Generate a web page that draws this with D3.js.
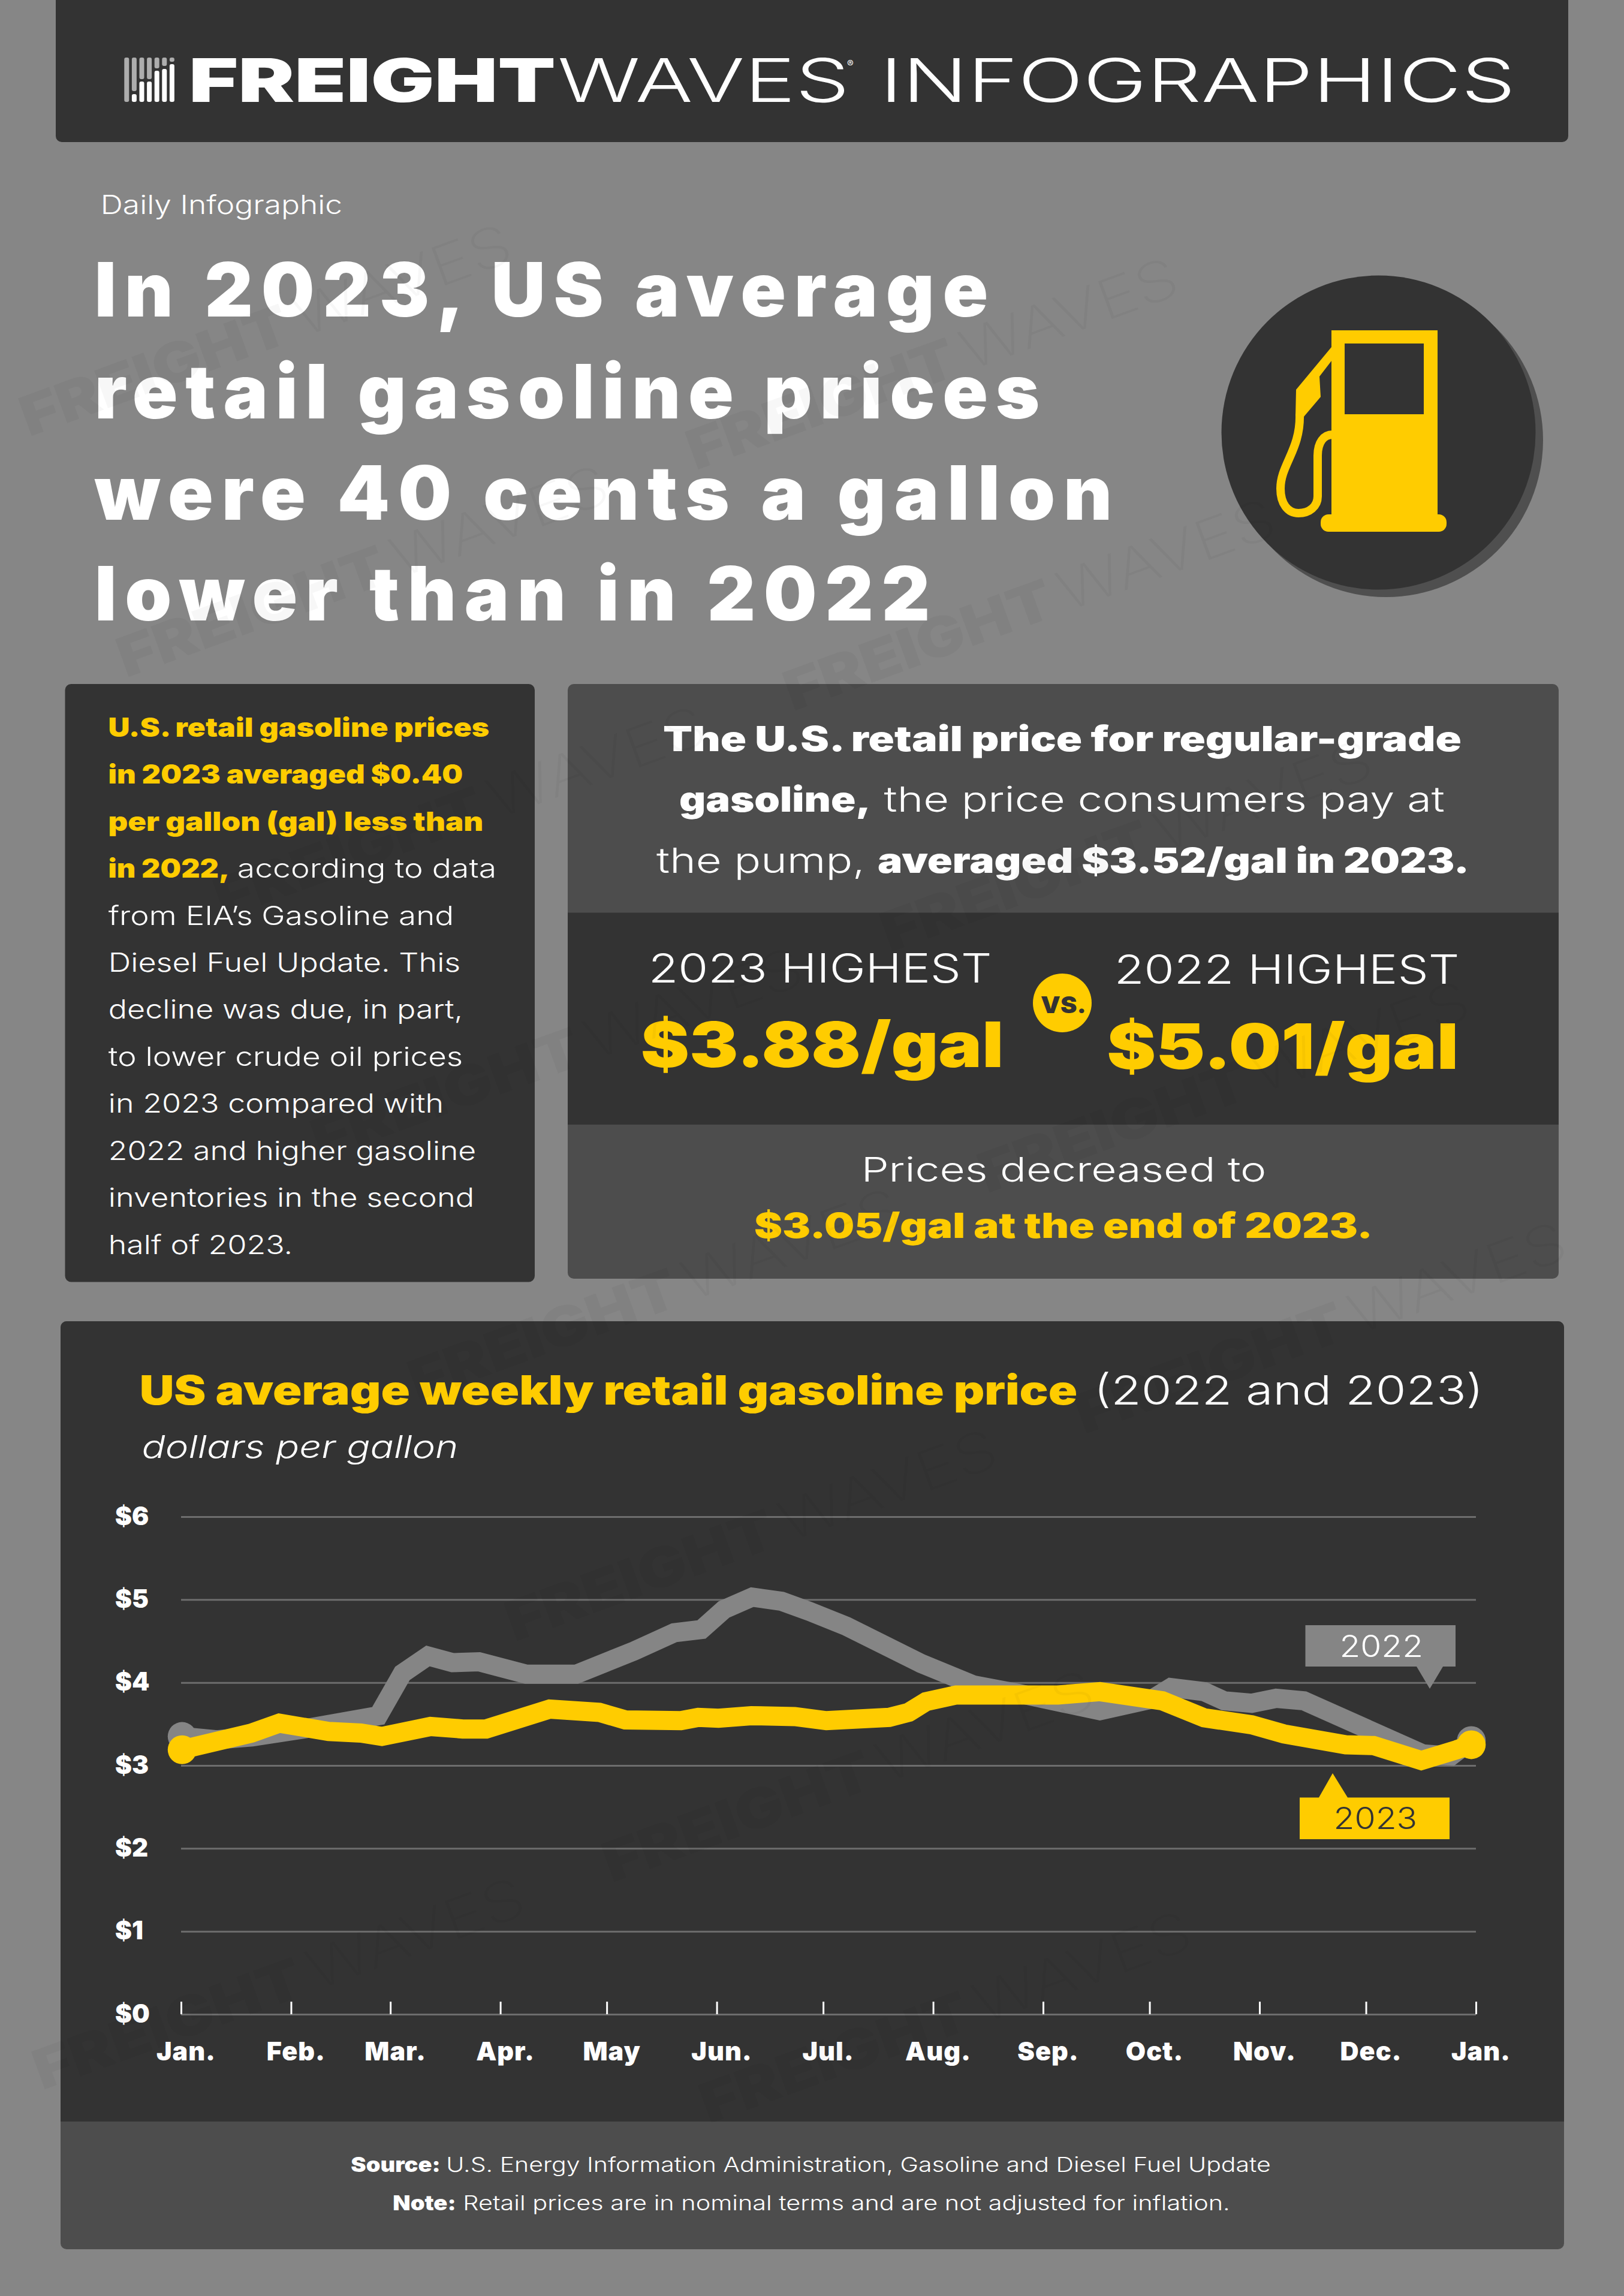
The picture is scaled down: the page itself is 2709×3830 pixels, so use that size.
<!DOCTYPE html>
<html>
<head>
<meta charset="utf-8">
<script src="https://cdn.jsdelivr.net/npm/d3@7"></script>
<style>
  html, body { margin: 0; padding: 0; background: #868686; }
  svg { display: block; }
  text { font-family: Inter, "Open Sans", sans-serif; }
</style>
</head>
<body>
<div id="chart"></div>
<script>
// day of the year and price
var days2022 = [0.3, 10, 20, 34.5, 55.6, 62.4, 69.6, 76.5, 84, 97.3, 111.4, 127.7, 139, 146.7, 153, 161, 169.3, 177, 187.5, 208.6, 223.4, 235.9, 259, 273.7, 279, 288.4, 294, 301.8, 308.7, 316.5, 350, 358, 363.7];
var price2022 = [3.35, 3.31, 3.345, 3.44, 3.60, 4.11, 4.32, 4.24, 4.25, 4.10, 4.10, 4.38, 4.60, 4.64, 4.88, 5.03, 4.98, 4.86, 4.68, 4.23, 3.97, 3.87, 3.66, 3.80, 3.94, 3.89, 3.78, 3.75, 3.81, 3.78, 3.14, 3.115, 3.30];
var days2023 = [0.3, 4, 19.8, 27.7, 41.6, 50.7, 56.6, 70.3, 79.4, 86, 103.9, 117.9, 125.2, 140.9, 145.8, 151.5, 160.7, 173, 181.9, 199.6, 205.1, 210, 218.5, 235.2, 247.2, 259, 276.6, 288.4, 301.8, 310.9, 328.3, 336.1, 349.6, 359.6, 363.7];
var price2023 = [3.19, 3.23, 3.39, 3.51, 3.41, 3.39, 3.35, 3.47, 3.44, 3.44, 3.68, 3.64, 3.55, 3.54, 3.58, 3.57, 3.60, 3.59, 3.54, 3.58, 3.64, 3.77, 3.85, 3.85, 3.85, 3.89, 3.78, 3.575, 3.49, 3.38, 3.25, 3.24, 3.06, 3.19, 3.25];

var monthDays = [0, 31, 59, 90, 120, 151, 181, 212, 243, 273, 304, 334, 365];
var monthLabels = ['Jan.', 'Feb.', 'Mar.', 'Apr.', 'May', 'Jun.', 'Jul.', 'Aug.', 'Sep.', 'Oct.', 'Nov.', 'Dec.', 'Jan.'];
var priceTicks = [0, 1, 2, 3, 4, 5, 6];

var titleLines = ['In 2023, US average', 'retail gasoline prices', 'were 40 cents a gallon', 'lower than in 2022'];
var titleEnds = [1642, 1728, 1849, 1545];
var titleBaselines = [528, 698, 867, 1035];

var sideLines = ['from EIA\u2019s Gasoline and', 'Diesel Fuel Update. This', 'decline was due, in part,', 'to lower crude oil prices', 'in 2023 compared with', '2022 and higher gasoline', 'inventories in the second', 'half of 2023.'];
var sideEnds = [755, 766, 770, 770, 738, 792, 789, 486];
var sideBold = ['U.S. retail gasoline prices', 'in 2023 averaged $0.40', 'per gallon (gal) less than', 'in 2022,'];
var sideBoldEnds = [814, 770, 804, 381];

var yellow = '#ffcc00', dark = '#333333', mid = '#4d4d4d', white = '#ffffff', grey = '#858585';

var svg = d3.select('#chart').append('svg')
  .attr('width', 2709)
  .attr('height', 3830);

svg.append('rect').attr('width', 2709).attr('height', 3830).attr('fill', '#868686');

// every text is fitted to the width it has in the picture, ink to ink
function put(x, y, str, size, weight, fill, x2, style) {
  var pad = x2 ? size * 0.05 : 0;
  var t = svg.append('text')
    .attr('x', x - pad)
    .attr('y', y)
    .attr('font-size', size)
    .attr('font-weight', weight)
    .attr('fill', fill)
    .text(str);
  if (x2) {
    t.attr('textLength', x2 - x + pad * 2).attr('lengthAdjust', 'spacingAndGlyphs');
  }
  if (style) t.attr('font-style', style);
  return t;
}

function panel(x, y, w, h, fill, r) {
  svg.append('rect').attr('x', x).attr('y', y).attr('width', w).attr('height', h)
    .attr('rx', r || 0).attr('fill', fill);
}

// header
panel(93, -20, 2523, 257, dark, 10);
var logoBars = [
  {g: 170, w: 170}, {g: 152, w: 157}, {g: 132, w: 136}, {g: 132, w: 136},
  {g: 114, w: 118}, {g: 110, w: 115}, {g: 103, w: 107}
];
logoBars.forEach(function(b, i) {
  var bx = 207.3 + i * 12.6;
  svg.append('rect').attr('x', bx).attr('y', 96).attr('width', 8).attr('height', b.g - 96).attr('rx', 3).attr('fill', '#adadad');
  if (b.w < 170) {
    svg.append('rect').attr('x', bx).attr('y', b.w).attr('width', 8).attr('height', 170 - b.w).attr('rx', 3).attr('fill', white);
  }
});
put(320, 170, 'FREIGHT', 100, 900, white, 922);
put(935, 170, 'WAVES', 100, 300, white, 1412);
put(1413, 112, '\u00ae', 16, 400, white);
put(1473, 170, 'INFOGRAPHICS', 100, 300, white, 2523);

put(170, 357, 'Daily Infographic', 43, 300, white, 569);
titleLines.forEach(function(s, i) {
  put(164, titleBaselines[i], s, 125, 900, white, titleEnds[i]).attr('lengthAdjust', 'spacing');
});

// pump badge
svg.append('circle').attr('cx', 2312).attr('cy', 734).attr('r', 262).attr('fill', '#4f4f4f');
svg.append('circle').attr('cx', 2299.5).attr('cy', 721.5).attr('r', 262).attr('fill', dark);
var pump = svg.append('g');
pump.append('rect').attr('x', 2221).attr('y', 551).attr('width', 177).attr('height', 320).attr('fill', yellow);
pump.append('rect').attr('x', 2243).attr('y', 573).attr('width', 132).attr('height', 118).attr('fill', dark);
pump.append('rect').attr('x', 2203).attr('y', 858).attr('width', 210).attr('height', 29).attr('rx', 13).attr('fill', yellow);
pump.append('path')
  .attr('d', 'M2221,579 L2162,650 L2161,695 L2175,695 L2203,662 L2201,628 L2221,602 Z')
  .attr('fill', yellow);
pump.append('path')
  .attr('d', 'M2168,690 C2170,750 2136,775 2136,815 C2136,840 2148,856 2166,856 C2184,856 2198,845 2198,828 L2198,760 C2198,738 2208,725 2223,725')
  .attr('fill', 'none').attr('stroke', yellow).attr('stroke-width', 14);

// left text panel
panel(108.5, 1141, 783.5, 997.5, dark, 10);
var sideY = d3.scaleLinear().domain([0, 11]).range([1229, 2091.5]);
sideBold.forEach(function(s, i) {
  put(182.6, sideY(i), s, 44, 900, yellow, sideBoldEnds[i]);
});
put(398, sideY(3), 'according to data', 44, 300, white, 826);
sideLines.forEach(function(s, i) {
  put(183, sideY(i + 4), s, 44, 300, white, sideEnds[i]);
});

// right stat panel
panel(947, 1141, 1653, 992, mid, 10);
panel(947, 1522.5, 1653, 353.5, dark);
put(1109, 1252.6, 'The U.S. retail price for regular-grade', 58, 900, white, 2435);
put(1136, 1354, 'gasoline,', 58, 900, white, 1450);
put(1477.5, 1354, 'the price consumers pay at', 58, 300, white, 2407);
put(1098, 1456, 'the pump,', 58, 300, white, 1440);
put(1467, 1456, 'averaged $3.52/gal in 2023.', 58, 900, white, 2448);
put(1085, 1638.6, '2023 HIGHEST', 67, 300, white, 1651);
put(1862, 1640.6, '2022 HIGHEST', 67, 300, white, 2431);
put(1074, 1780, '$3.88/gal', 105, 900, yellow, 1669);
put(1851.5, 1783, '$5.01/gal', 105, 900, yellow, 2428);
svg.append('circle').attr('cx', 1772).attr('cy', 1673).attr('r', 49).attr('fill', yellow);
put(1738, 1690, 'VS.', 38, 900, dark, 1810);
put(1439.5, 1971, 'Prices decreased to', 56, 300, white, 2109.6);
put(1261, 2065, '$3.05/gal at the end of 2023.', 58, 900, yellow, 2287);

// chart panel
panel(101, 2204, 2508, 1548, mid, 10);
panel(101, 2204, 2508, 1335, dark, 10);
panel(101, 3500, 2508, 39, dark);
put(236, 2342.7, 'US average weekly retail gasoline price', 67, 900, yellow, 1794);
put(1828, 2342.7, '(2022 and 2023)', 67, 300, white, 2471);
put(239, 2431.7, 'dollars per gallon', 52, 300, white, 762, 'italic');

var x = d3.scaleLinear().domain([0, 365]).range([302, 2462]);
var y = d3.scaleLinear().domain([0, 6]).range([3360, 2530]);

var yAxis = d3.axisLeft(y)
  .tickValues(priceTicks)
  .tickSize(-(x.range()[1] - x.range()[0]))
  .tickFormat(function(d) { return '$' + d; });
var gy = svg.append('g').attr('transform', 'translate(302,0)').call(yAxis);
gy.select('.domain').remove();
gy.selectAll('.tick line').attr('stroke', '#6d6d6d').attr('stroke-width', 3);
gy.selectAll('.tick text')
  .attr('x', 192 - 302)
  .attr('dy', 13)
  .attr('text-anchor', 'start')
  .attr('fill', white)
  .attr('font-size', 42)
  .attr('font-weight', 900)
  .attr('font-family', 'Inter');

var xAxis = d3.axisBottom(x)
  .tickValues(monthDays)
  .tickSize(-21)
  .tickPadding(0)
  .tickFormat(function(d, i) { return monthLabels[i]; });
var gx = svg.append('g').attr('transform', 'translate(0,3360)').call(xAxis);
gx.select('.domain').remove();
gx.selectAll('.tick line').attr('stroke', white).attr('stroke-width', 3);
gx.selectAll('.tick text')
  .attr('y', 77)
  .attr('dy', 0)
  .attr('dx', 8)
  .attr('fill', white)
  .attr('font-size', 43)
  .attr('font-weight', 900)
  .attr('letter-spacing', 1)
  .attr('font-family', 'Inter');

function drawSeries(days, prices, color) {
  var pts = days.map(function(d, i) { return [d, prices[i]]; });
  var line = d3.line()
    .x(function(d) { return x(d[0]); })
    .y(function(d) { return y(d[1]); });
  svg.append('path')
    .datum(pts)
    .attr('d', line)
    .attr('fill', 'none')
    .attr('stroke', color)
    .attr('stroke-width', 32)
    .attr('stroke-linejoin', 'miter');
  svg.selectAll(null)
    .data([pts[0], pts[pts.length - 1]])
    .enter()
    .append('circle')
    .attr('cx', function(d) { return x(d[0]); })
    .attr('cy', function(d) { return y(d[1]); })
    .attr('r', 24)
    .attr('fill', color);
}
drawSeries(days2022, price2022, grey);
drawSeries(days2023, price2023, yellow);

// series callouts
svg.append('path').attr('d', 'M2177.5,2711 H2428 V2780 H2407 L2385,2817 L2363,2780 H2177.5 Z').attr('fill', grey);
put(2237, 2764, '2022', 50, 300, white, 2371.5);
svg.append('path').attr('d', 'M2168,2998.5 H2200 L2223,2958 L2248,2998.5 H2418 V3068 H2168 Z').attr('fill', yellow);
put(2227, 3051, '2023', 50, 300, dark, 2361.6);

// footer
put(587, 3623, 'Source:', 34, 900, white, 733);
put(746, 3623, 'U.S. Energy Information Administration, Gasoline and Diesel Fuel Update', 34, 300, white, 2118);
put(657, 3686.7, 'Note:', 34, 900, white, 759);
put(774, 3686.7, 'Retail prices are in nominal terms and are not adjusted for inflation.', 34, 300, white, 2050);

// faint repeated brand mark, only where a whole one fits on the page
var mark = svg.append('g').attr('fill', '#000').attr('fill-opacity', 0.03);
var markCos = Math.cos(20 * Math.PI / 180), markSin = Math.sin(20 * Math.PI / 180);
d3.range(-4, 12).forEach(function(r) {
  d3.range(-3, 5).forEach(function(c) {
    var wx = 998 + r * 162 + c * 950;
    var wy = 383 + r * 402 - c * 346;
    if (wx < 5 || wx + 865 * markCos > 2704 || wy - 865 * markSin - 90 < 5 || wy + 20 > 3825) return;
    var wm = mark.append('g').attr('transform', 'translate(' + wx + ',' + wy + ') rotate(-20)');
    wm.append('text').attr('font-size', 92).attr('font-weight', 900).attr('textLength', 470).attr('lengthAdjust', 'spacingAndGlyphs').text('FREIGHT');
    wm.append('text').attr('x', 485).attr('font-size', 92).attr('font-weight', 200).attr('textLength', 380).attr('lengthAdjust', 'spacingAndGlyphs').text('WAVES');
  });
});
</script>
</body>
</html>
